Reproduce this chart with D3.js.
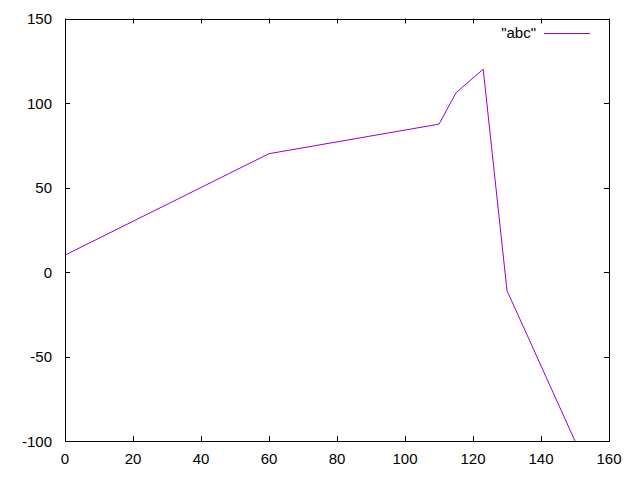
<!DOCTYPE html>
<html>
<head>
<meta charset="utf-8">
<script src="https://cdn.jsdelivr.net/npm/d3@7"></script>
<style>
  body { margin: 0; background: #fff; }
  text { font-family: "Liberation Sans", Arial, sans-serif; font-size: 15px; fill: #000; }
</style>
</head>
<body>
<script>
// data
var xValues = [0, 60, 110, 115, 123, 130, 150];
var yValues = [10, 70, 87.5, 106, 120, -11, -100];
var xTicks = [0, 20, 40, 60, 80, 100, 120, 140, 160];
var yTicks = [-100, -50, 0, 50, 100, 150];
var seriesName = '"abc"';

var width = 640, height = 480;
var plotLeft = 65, plotRight = 609, plotTop = 18.5, plotBottom = 441;
var tickLen = 5;

var svg = d3.select("body").append("svg")
    .attr("width", width)
    .attr("height", height);

var x = d3.scaleLinear().domain([0, 160]).range([plotLeft, plotRight]);
var y = d3.scaleLinear().domain([-100, 150]).range([plotBottom, plotTop]);

// ticks, all four sides, pointing in
var ticks = svg.append("g").attr("stroke", "#000").attr("stroke-width", 1);
xTicks.forEach(function (t) {
    var px = Math.round(x(t)) + 0.5;
    ticks.append("line").attr("x1", px).attr("x2", px).attr("y1", plotBottom).attr("y2", plotBottom - tickLen);
    ticks.append("line").attr("x1", px).attr("x2", px).attr("y1", plotTop).attr("y2", plotTop + tickLen);
    svg.append("text").attr("x", x(t)).attr("y", 464).attr("text-anchor", "middle").text(t);
});
yTicks.forEach(function (t) {
    var py = Math.round(y(t)) + 0.5;
    ticks.append("line").attr("x1", plotLeft).attr("x2", plotLeft + tickLen).attr("y1", py).attr("y2", py);
    ticks.append("line").attr("x1", plotRight).attr("x2", plotRight - tickLen).attr("y1", py).attr("y2", py);
    svg.append("text").attr("x", 52).attr("y", y(t) + 5.5).attr("text-anchor", "end").text(t);
});

// series line
var line = d3.line()
    .x(function (d, i) { return x(xValues[i]); })
    .y(function (d) { return y(d); });

svg.append("path")
    .datum(yValues)
    .attr("fill", "none")
    .attr("stroke", "#9400d3")
    .attr("stroke-width", 1)
    .attr("d", line);

// frame
svg.append("rect")
    .attr("x", plotLeft + 0.5).attr("y", Math.round(plotTop) + 0.5)
    .attr("width", plotRight - plotLeft).attr("height", plotBottom - Math.round(plotTop))
    .attr("fill", "none").attr("stroke", "#000").attr("stroke-width", 1);

// key
svg.append("text").attr("x", 536).attr("y", 38).attr("text-anchor", "end").text(seriesName);
svg.append("line").attr("x1", 544).attr("x2", 590).attr("y1", 33.5).attr("y2", 33.5)
    .attr("stroke", "#9400d3").attr("stroke-width", 1);
</script>
</body>
</html>
